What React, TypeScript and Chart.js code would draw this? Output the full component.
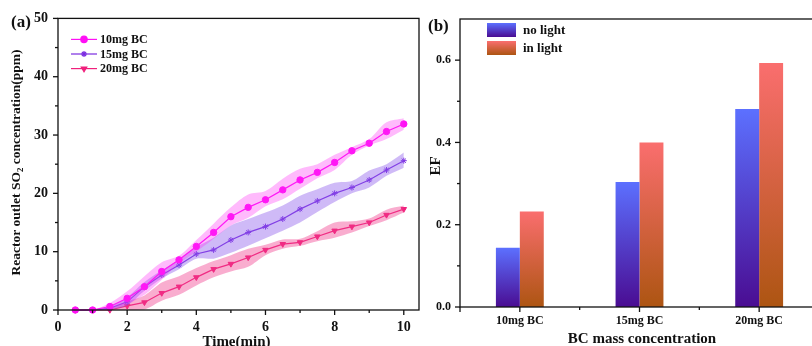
import React, { useEffect, useRef } from "react";
import { Chart, registerables } from "chart.js";
import { drawPoint } from "chart.js/helpers";

Chart.register(...registerables);

const FONT = "'Liberation Serif', 'Times New Roman', serif";

// ---------- Panel (a) data ----------
const timeMin = [0.5, 1, 1.5, 2, 2.5, 3, 3.5, 4, 4.5, 5, 5.5, 6, 6.5, 7, 7.5, 8, 8.5, 9, 9.5, 10];
const so2_10mg = [0, 0, 0.6, 2.0, 4.0, 6.6, 8.6, 10.9, 13.3, 16.0, 17.6, 18.9, 20.6, 22.3, 23.6, 25.3, 27.3, 28.6, 30.6, 31.9];
const so2_10mg_hi = [0, 0, 1.2, 3.2, 5.8, 8.2, 9.3, 12.0, 14.8, 17.6, 19.8, 20.4, 22.5, 24.2, 25.0, 26.6, 27.9, 29.3, 32.2, 32.9];
const so2_10mg_lo = [0, 0, 0.2, 1.0, 2.6, 5.2, 8.0, 10.0, 12.2, 14.5, 15.8, 17.8, 19.0, 20.8, 22.6, 24.0, 26.6, 28.2, 29.3, 30.9];
const so2_15mg = [0, 0, 0.3, 1.4, 4.0, 6.0, 7.7, 9.6, 10.3, 12.0, 13.3, 14.3, 15.6, 17.3, 18.7, 20.0, 21.0, 22.3, 24.0, 25.6];
const so2_15mg_hi = [0, 0, 0.6, 2.2, 4.8, 6.8, 8.6, 10.8, 12.4, 14.5, 15.6, 16.7, 17.9, 19.6, 20.7, 21.8, 22.1, 23.9, 25.0, 27.0];
const so2_15mg_lo = [0, 0, 0.1, 0.8, 3.3, 5.4, 7.0, 8.8, 8.8, 9.8, 11.0, 12.3, 13.6, 15.0, 16.8, 18.5, 20.0, 21.0, 23.0, 24.4];
const so2_20mg = [0, 0, 0, 0.7, 1.3, 2.9, 4.0, 5.6, 7.0, 7.9, 9.0, 10.3, 11.3, 11.6, 12.6, 13.6, 14.3, 15.0, 16.3, 17.3];
const so2_20mg_hi = [0, 0, 0.3, 1.5, 2.5, 4.7, 5.8, 7.2, 8.4, 9.4, 10.5, 11.2, 12.1, 12.2, 13.5, 15.0, 15.2, 15.7, 17.2, 17.9];
const so2_20mg_lo = [0, 0, 0, 0, 0.1, 1.6, 2.6, 4.2, 5.6, 6.6, 7.4, 9.4, 10.5, 11.0, 11.8, 12.4, 13.3, 14.4, 15.4, 16.7];
const seriesNames = ["10mg BC", "15mg BC", "20mg BC"];

// ---------- Panel (b) data ----------
const bcCategories = ["10mg BC", "15mg BC", "20mg BC"];
const efNoLight = [0.144, 0.304, 0.481];
const efInLight = [0.232, 0.4, 0.593];
const barNames = ["no light", "in light"];

const seriesStyle = [
  { line: "#FF10F5", band: "rgba(255,40,245,0.32)", point: "circle", rotation: 0, radius: 3.2 },
  { line: "#7A2BE0", band: "rgba(140,90,235,0.42)", point: "star", rotation: 0, radius: 3.0 },
  { line: "#F0207C", band: "rgba(240,60,140,0.42)", point: "triangle", rotation: 180, radius: 3.2 },
];
const barGrad = [
  ["#5C70FF", "#4A0C92"],
  ["#FA6E6E", "#AD5512"],
];

const pts = (ys: number[]) => timeMin.map((x, i) => ({ x, y: ys[i] }));

function tickLine(ctx: CanvasRenderingContext2D, x1: number, y1: number, x2: number, y2: number) {
  ctx.beginPath();
  ctx.moveTo(x1, y1);
  ctx.lineTo(x2, y2);
  ctx.stroke();
}

const panelAPlugin = {
  id: "panelA",
  afterDraw(chart: any) {
    const ctx: CanvasRenderingContext2D = chart.ctx;
    const { left, right, top, bottom } = chart.chartArea;
    const xs = chart.scales.x;
    const ys = chart.scales.y;
    ctx.save();
    ctx.strokeStyle = "#111";
    ctx.lineWidth = 1.3;
    ctx.strokeRect(left, top, right - left, bottom - top);
    for (let v = 0; v <= 10; v++) {
      const px = xs.getPixelForValue(v);
      tickLine(ctx, px, bottom, px, bottom + (v % 2 === 0 ? 5 : 3));
    }
    for (let v = 0; v <= 50; v += 5) {
      const py = ys.getPixelForValue(v);
      tickLine(ctx, left, py, left - (v % 10 === 0 ? 5 : 3), py);
    }
    // legend
    ctx.textBaseline = "middle";
    ctx.textAlign = "left";
    ctx.font = `bold 12px ${FONT}`;
    seriesNames.forEach((name, i) => {
      const st = seriesStyle[i];
      const y = top + 21 + i * 14.6;
      ctx.strokeStyle = st.line;
      ctx.fillStyle = st.line;
      ctx.lineWidth = 1.2;
      tickLine(ctx, left + 13, y, left + 39, y);
      drawPoint(ctx, { pointStyle: st.point, rotation: st.rotation, radius: st.radius, borderWidth: 1 } as any, left + 26, y);
      ctx.fillStyle = "#111";
      ctx.fillText(name, left + 42, y + 0.5);
    });
    // panel label
    ctx.fillStyle = "#111";
    ctx.font = `bold 17px ${FONT}`;
    ctx.fillText("(a)", 11, top + 4);
    // x title
    ctx.textAlign = "center";
    ctx.font = `bold 15px ${FONT}`;
    ctx.fillText("Time(min)", (left + right) / 2 - 2, bottom + 32);
    // y title with subscript
    ctx.save();
    ctx.translate(17, 162.5);
    ctx.rotate(-Math.PI / 2);
    const mainF = `bold 13.5px ${FONT}`;
    const subF = `bold 9px ${FONT}`;
    const parts: [string, string, number][] = [
      ["Reactor outlet SO", mainF, 0],
      ["2", subF, 4],
      [" concentration(ppm)", mainF, 0],
    ];
    let total = 0;
    parts.forEach(([t, f]) => {
      ctx.font = f;
      total += ctx.measureText(t).width;
    });
    let x = -total / 2;
    ctx.textAlign = "left";
    parts.forEach(([t, f, dy]) => {
      ctx.font = f;
      ctx.fillText(t, x, dy);
      x += ctx.measureText(t).width;
    });
    ctx.restore();
    ctx.restore();
  },
};

const panelBPlugin = {
  id: "panelB",
  afterDraw(chart: any) {
    const ctx: CanvasRenderingContext2D = chart.ctx;
    const { left, right, top, bottom } = chart.chartArea;
    const xs = chart.scales.x;
    const ys = chart.scales.y;
    ctx.save();
    ctx.strokeStyle = "#111";
    ctx.lineWidth = 1.3;
    ctx.strokeRect(left, top, right - left, bottom - top);
    const n = bcCategories.length;
    const step = (right - left) / n;
    for (let i = 0; i < n; i++) {
      const px = xs.getPixelForValue(i);
      tickLine(ctx, px, bottom, px, bottom + 5);
    }
    for (let i = 0; i <= n; i++) {
      const px = left + i * step;
      tickLine(ctx, px, bottom, px, bottom + (i === 0 ? 5 : 3));
    }
    for (let k = 0; k <= 6; k++) {
      const py = ys.getPixelForValue(k / 10);
      tickLine(ctx, left, py, left - (k % 2 === 0 ? 5 : 3), py);
    }
    // legend
    ctx.textBaseline = "middle";
    ctx.textAlign = "left";
    ctx.font = `bold 13px ${FONT}`;
    barNames.forEach((name, i) => {
      const y0 = top + 4 + i * 18;
      const g = ctx.createLinearGradient(0, y0, 0, y0 + 14);
      g.addColorStop(0, barGrad[i][0]);
      g.addColorStop(1, barGrad[i][1]);
      ctx.fillStyle = g;
      ctx.fillRect(left + 27, y0, 29, 14);
      ctx.fillStyle = "#111";
      ctx.fillText(name, left + 63, y0 + 8);
    });
    ctx.font = `bold 17px ${FONT}`;
    ctx.fillText("(b)", 5, top + 8);
    // titles
    ctx.textAlign = "center";
    ctx.font = `bold 15px ${FONT}`;
    ctx.fillText("BC mass concentration", left + 182, bottom + 32);
    ctx.save();
    ctx.translate(13, (top + bottom) / 2 + 3);
    ctx.rotate(-Math.PI / 2);
    ctx.fillText("EF", 0, 0);
    ctx.restore();
    ctx.restore();
  },
};

function barColor(i: number) {
  return (c: any) => {
    const chart = c.chart;
    if (!chart.chartArea || c.raw === undefined) return barGrad[i][0];
    const ys = chart.scales.y;
    const t = ys.getPixelForValue(c.raw);
    const b = ys.getPixelForValue(0);
    const g = chart.ctx.createLinearGradient(0, t, 0, b);
    g.addColorStop(0, barGrad[i][0]);
    g.addColorStop(1, barGrad[i][1]);
    return g;
  };
}

export default function App() {
  const refA = useRef<HTMLCanvasElement>(null);
  const refB = useRef<HTMLCanvasElement>(null);

  useEffect(() => {
    const bands = [
      [so2_10mg_hi, so2_10mg_lo, so2_10mg],
      [so2_15mg_hi, so2_15mg_lo, so2_15mg],
      [so2_20mg_hi, so2_20mg_lo, so2_20mg],
    ];
    const datasets: any[] = [];
    bands.forEach(([hi, lo, mid], i) => {
      const st = seriesStyle[i];
      datasets.push({
        label: seriesNames[i] + " upper",
        data: pts(hi),
        fill: "+1",
        backgroundColor: st.band,
        borderWidth: 0,
        pointRadius: 0,
        tension: 0.3,
      });
      datasets.push({
        label: seriesNames[i] + " lower",
        data: pts(lo),
        fill: false,
        borderWidth: 0,
        pointRadius: 0,
        tension: 0.3,
      });
      datasets.push({
        label: seriesNames[i],
        data: pts(mid),
        fill: false,
        borderColor: st.line,
        backgroundColor: st.line,
        borderWidth: 1.2,
        pointStyle: st.point,
        pointRotation: st.rotation,
        pointRadius: st.radius,
        pointBorderWidth: 1,
        pointBackgroundColor: st.line,
        pointBorderColor: st.line,
        clip: false,
      });
    });

    const tickFontA = { family: FONT, size: 14, weight: "bold" as const };
    const chartA = new Chart(refA.current!, {
      type: "line",
      data: { datasets },
      options: {
        responsive: false,
        animation: false,
        layout: { padding: { top: 16, right: 3, left: 0, bottom: 0 } },
        plugins: { legend: { display: false }, tooltip: { enabled: false } },
        scales: {
          x: {
            type: "linear",
            min: 0,
            max: 10.44,
            ticks: { stepSize: 2, includeBounds: false, font: tickFontA, color: "#111", padding: 9, maxRotation: 0 },
            grid: { display: false, drawTicks: false },
            border: { display: false },
            afterFit: (s: any) => {
              s.height = 36;
            },
          },
          y: {
            min: 0,
            max: 50,
            ticks: { stepSize: 10, font: tickFontA, color: "#111", padding: 10 },
            grid: { display: false, drawTicks: false },
            border: { display: false },
            afterFit: (s: any) => {
              s.width = 58;
            },
          },
        },
      } as any,
      plugins: [panelAPlugin],
    });

    const tickFontB = { family: FONT, size: 12, weight: "bold" as const };
    const chartB = new Chart(refB.current!, {
      type: "bar",
      data: {
        labels: bcCategories,
        datasets: [
          { label: barNames[0], data: efNoLight, backgroundColor: barColor(0), categoryPercentage: 0.4, barPercentage: 1.0 },
          { label: barNames[1], data: efInLight, backgroundColor: barColor(1), categoryPercentage: 0.4, barPercentage: 1.0 },
        ],
      },
      options: {
        responsive: false,
        animation: false,
        layout: { padding: { top: 19, right: 4, left: 0, bottom: 0 } },
        plugins: { legend: { display: false }, tooltip: { enabled: false } },
        scales: {
          x: {
            ticks: { font: tickFontB, color: "#111", padding: 7, maxRotation: 0 },
            grid: { display: false, drawTicks: false },
            border: { display: false },
            afterFit: (s: any) => {
              s.height = 39;
            },
          },
          y: {
            min: 0,
            max: 0.7,
            ticks: {
              stepSize: 0.2,
              includeBounds: false,
              font: tickFontB,
              color: "#111",
              padding: 9,
              callback: (v: any) => Number(v).toFixed(1),
            },
            grid: { display: false, drawTicks: false },
            border: { display: false },
            afterFit: (s: any) => {
              s.width = 37;
            },
          },
        },
      } as any,
      plugins: [panelBPlugin],
    });

    return () => {
      chartA.destroy();
      chartB.destroy();
    };
  }, []);

  return (
    <div
      style={{
        position: "fixed",
        left: 0,
        top: 0,
        width: 812,
        height: 346,
        overflow: "hidden",
        background: "#fff",
      }}
    >
      <canvas ref={refA} width={424} height={346} style={{ position: "absolute", left: 0, top: 0 }} />
      <canvas ref={refB} width={400} height={346} style={{ position: "absolute", left: 423, top: 0 }} />
    </div>
  );
}
